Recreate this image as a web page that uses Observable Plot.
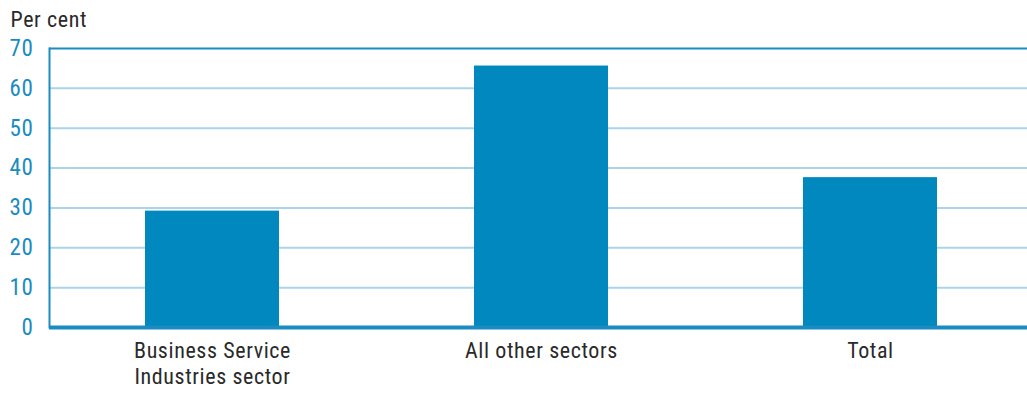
<!DOCTYPE html>
<html>
<head>
<meta charset="utf-8">
<script src="https://cdn.jsdelivr.net/npm/d3@7"></script>
<script src="https://cdn.jsdelivr.net/npm/@observablehq/plot@0.6"></script>
<style>
  html, body { margin: 0; padding: 0; background: #fff; }
  #chart svg { display: block; }
</style>
</head>
<body>
<div id="chart"></div>
<script>
const categories = ["Business Service\nIndustries sector", "All other sectors", "Total"];
const values = [29.2, 65.6, 37.6];
const yTicks = [0, 10, 20, 30, 40, 50, 60, 70];
const yLabel = "Per cent";

const data = categories.map((c, i) => ({category: c, value: values[i]}));

const axisBlue = "#1a8cc1";
const barBlue = "#0088bf";
const gridBlue = "#a9d5e6";
const font = "'Liberation Sans Narrow', 'Roboto Condensed', 'Liberation Sans', sans-serif";

const chart = Plot.plot({
  width: 1027,
  height: 393,
  marginLeft: 49,
  marginRight: 0,
  marginTop: 48,
  marginBottom: 66,
  style: {fontFamily: font, background: "#fff", overflow: "visible", letterSpacing: "0.6px"},
  x: {domain: categories, range: [47, 1035], paddingInner: 0.593, paddingOuter: 0.2965},
  y: {domain: [0, 70], ticks: yTicks},
  marks: [
    Plot.ruleY(yTicks.filter(d => d > 0 && d < 70), {stroke: gridBlue, strokeWidth: 2}),
    Plot.barY(data, {x: "category", y: "value", fill: barBlue}),
    Plot.ruleY([70], {stroke: axisBlue, strokeWidth: 2}),
    Plot.frame({anchor: "left", stroke: axisBlue, strokeWidth: 2}),
    Plot.ruleY([0], {stroke: axisBlue, strokeWidth: 4}),
    Plot.axisY({ticks: yTicks, tickSize: 0, tickPadding: 16, fontSize: 23, fill: axisBlue, label: null, fontFamily: font}),
    Plot.axisX({tickSize: 0, tickPadding: 12, fontSize: 22, fill: "#2a2a2a", label: null, lineHeight: 1.17, fontFamily: font}),
    Plot.text([yLabel], {frameAnchor: "top-left", dx: -39, dy: -37, fontSize: 22, fill: "#2a2a2a", textAnchor: "start", fontFamily: font})
  ]
});
document.getElementById("chart").append(chart);
</script>
</body>
</html>
